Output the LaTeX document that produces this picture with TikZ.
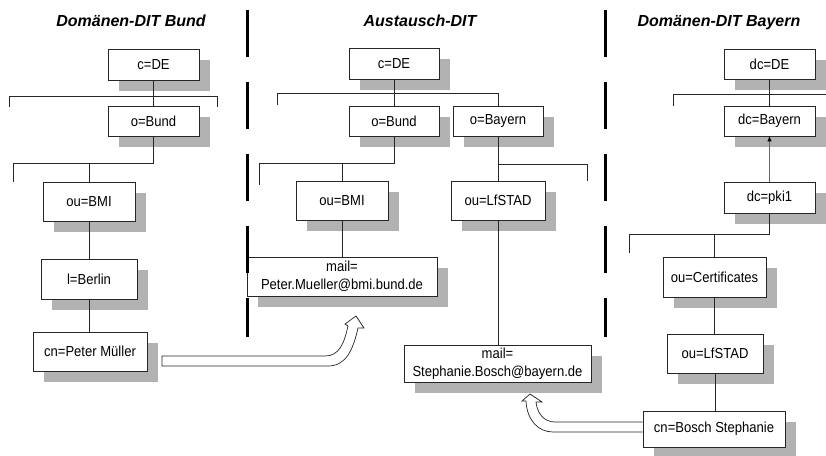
\documentclass[tikz,border=0pt]{standalone}
\usepackage{fontspec}
\setmainfont{Liberation Sans}
\newfontfamily\boxfont[FakeStretch=0.9]{Liberation Sans}
\usetikzlibrary{shadows,arrows.meta}
\tikzset{
  box/.style={draw=black!85, line width=0.8pt, fill=white, inner sep=0pt, align=center,
    font=\boxfont\fontsize{14.5}{18}\selectfont,
    general shadow={fill=black!30, shadow xshift=11pt, shadow yshift=-11pt}},
  conn/.style={draw=black!85, line width=0.8pt},
  sep/.style={draw=black, line width=3pt, dash pattern=on 47pt off 25pt},
  title/.style={font=\fontsize{16}{19}\selectfont\bfseries\itshape, anchor=base},
  fat/.style={draw=black!85, line width=0.7pt, fill=white, line join=miter}
}
\begin{document}
\begin{tikzpicture}[x=1pt,y=-1pt]
\useasboundingbox (0,0) rectangle (826,455);

% titles
\node[title] (t1) at (131,26) {Domänen-DIT Bund};
\node[title] (t2) at (420,26) {Austausch-DIT};
\node[title] (t3) at (719,26) {Domänen-DIT Bayern};

% Bund
\node[box, minimum width=91pt, minimum height=31pt] (b_c) at (153.5,64.5) {c=DE};
\node[box, minimum width=91pt, minimum height=30pt] (b_o) at (153.5,121) {o=Bund};
\node[box, minimum width=92pt, minimum height=39pt] (b_ou) at (89,201.5) {ou=BMI};
\node[box, minimum width=96pt, minimum height=40pt] (b_l) at (89,279) {l=Berlin};
\node[box, minimum width=114pt, minimum height=39pt] (b_cn) at (90,351.5) {cn=Peter Müller};

% Austausch
\node[box, minimum width=90pt, minimum height=31pt] (a_c) at (394,63.5) {c=DE};
\node[box, minimum width=90pt, minimum height=30pt] (a_ob) at (394,121) {o=Bund};
\node[box, minimum width=90pt, minimum height=30pt] (a_oy) at (498,121) {o=Bayern};
\node[box, minimum width=92pt, minimum height=39pt] (a_ou) at (342,200.5) {ou=BMI};
\node[box, minimum width=94pt, minimum height=39pt] (a_lf) at (498,200.5) {ou=LfSTAD};
\node[box, minimum width=190pt, minimum height=39pt] (a_mp) at (342,276.5) {mail=\\Peter.Mueller@bmi.bund.de};
\node[box, minimum width=187pt, minimum height=37pt] (a_ms) at (497.5,363.5) {mail=\\Stephanie.Bosch@bayern.de};

% Bayern
\node[box, minimum width=91pt, minimum height=30pt] (y_dc) at (769.5,64) {dc=DE};
\node[box, minimum width=91pt, minimum height=30pt] (y_by) at (769.5,121) {dc=Bayern};
\node[box, minimum width=91pt, minimum height=31pt] (y_pki) at (769.5,197.5) {dc=pki1};
\node[box, minimum width=103pt, minimum height=40pt] (y_cert) at (714.5,277) {ou=Certificates};
\node[box, minimum width=96pt, minimum height=39pt] (y_lf) at (715,353.5) {ou=LfSTAD};
\node[box, minimum width=142pt, minimum height=36pt] (y_cn) at (714,429) {cn=Bosch Stephanie};

% bar coordinates
\coordinate (b1l) at (9,96);   \coordinate (b1lt) at (9,107);
\coordinate (b1r) at (217,96); \coordinate (b1rt) at (217,107);
\coordinate (b2l) at (13,163); \coordinate (b2lt) at (13,182);
\coordinate (a1l) at (277,93); \coordinate (a1lt) at (277,105);
\coordinate (a2l) at (259,163); \coordinate (a2lt) at (259,185);
\coordinate (a3r) at (587,164); \coordinate (a3rt) at (587,181);
\coordinate (y1l) at (673,94); \coordinate (y1lt) at (673,106); \coordinate (y1r) at (830,94);
\coordinate (y2l) at (629,234); \coordinate (y2lt) at (629,253);

% Bund connectors
\draw[conn] (b1lt) -- (b1l) -- (b1r) -- (b1rt);
\draw[conn] (b_c.south) -- (b_o.north);
\draw[conn] (b_o.south) |- (b2l) -- (b2lt);
\draw[conn] (b_ou.north) -- (b_ou.north |- b2l);
\draw[conn] (b_ou.south) -- (b_l.north);
\draw[conn] (b_l.south) -- (b_l.south |- b_cn.north);

% Austausch connectors
\draw[conn] (a1lt) -- (a1l) -| (a_oy.north);
\draw[conn] (a_c.south) -- (a_ob.north);
\draw[conn] (a_ob.south) |- (a2l) -- (a2lt);
\draw[conn] (a_ou.north) -- (a_ou.north |- a2l);
\draw[conn] (a_ou.south) -- (a_mp.north);
\draw[conn] (a_oy.south) -- (a_lf.north);
\draw[conn] (a_oy.south |- a3r) -- (a3r) -- (a3rt);
\draw[conn] (a_lf.south) -- (a_lf.south |- a_ms.north);

% Bayern connectors
\draw[conn] (y1lt) -- (y1l) -- (y1r);
\draw[conn] (y_dc.south) -- (y_by.north);
\draw[conn, draw=black!60, -{Triangle[length=5pt,width=4pt,black]}] (y_pki.north) -- (y_by.south);
\draw[conn] (y_pki.south) |- (y2l) -- (y2lt);
\draw[conn] (y_cert.north) -- (y_cert.north |- y2l);
\draw[conn] (y_cert.south) -- (y_cert.south |- y_lf.north);
\draw[conn] (y_lf.south) -- (y_lf.south |- y_cn.north);

% separators
\coordinate (s1t) at (247,10); \coordinate (s1b) at (247,337);
\coordinate (s2t) at (605,10); \coordinate (s2b) at (605,337);
\draw[sep] (s1t) -- (s1b);
\draw[sep] (s2t) -- (s2b);

% fat arrows
\draw[fat] (162,356) -- (325,356) .. controls (339,356) and (344,344) .. (348,326)
  -- (345,324) -- (356,316) -- (364,328) -- (358,328)
  .. controls (353,350) and (346,366) .. (328,366) -- (162,366) -- cycle;
\draw[fat] (y_cn.west |- 0,422) -- (555,422) .. controls (543,422) and (537,412) .. (536,402)
  -- (542,402) -- (530,394) -- (522,401) -- (526,401)
  .. controls (527,420) and (538,432) .. (553,432) -- (y_cn.west |- 0,432);
\end{tikzpicture}
\end{document}
